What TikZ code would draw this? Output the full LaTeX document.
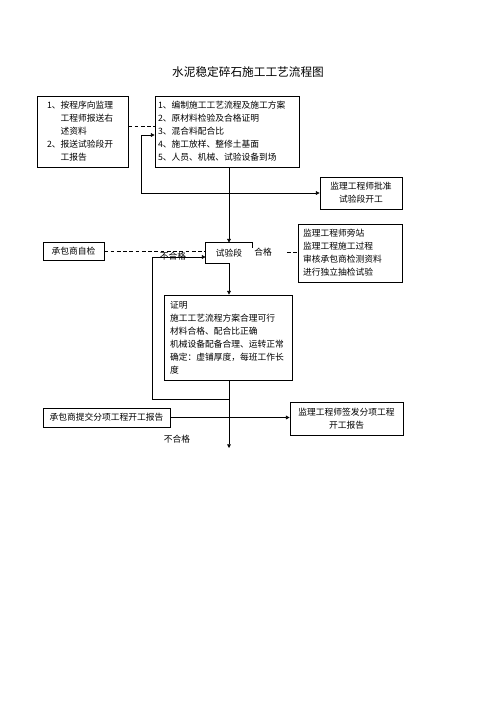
\documentclass[tikz,border=0pt]{standalone}
\usepackage{fontspec}
\setmainfont{Noto Sans CJK SC}
\usepackage{tikz}
\usetikzlibrary{arrows.meta, calc, positioning}

\begin{document}
\begin{tikzpicture}[x=1.2pt, y=-1.2pt, line width=0.9pt,
  box/.style={draw, rectangle, inner ysep=0pt, font=\fontsize{10.5pt}{15.6pt}\selectfont},
  flow/.style={-{Triangle[length=4.5pt,width=4.5pt]}},
  twoway/.style={{Triangle[length=4.5pt,width=4.5pt]}-{Triangle[length=4.5pt,width=4.5pt]}},
  dash line/.style={dash pattern=on 4.5pt off 3pt},
  tag/.style={font=\fontsize{10.5pt}{12pt}\selectfont, inner sep=0pt}]
\useasboundingbox (0,0) rectangle (496,702);
% title
\node[font=\fontsize{14pt}{16pt}\selectfont] (title) at (248,72) {水泥稳定碎石施工工艺流程图};
% top row
\node[box, minimum width=109.2pt, minimum height=85.2pt, inner xsep=12pt, text width=85pt, align=left] (send) at (82.5,131.5)
  {1、按程序向监理\\\hphantom{1、}工程师报送右\\\hphantom{1、}述资料\\2、报送试验段开\\\hphantom{1、}工报告};
\node[box, minimum width=172.8pt, minimum height=85.2pt, inner xsep=3.6pt, text width=165.6pt, align=left] (prep) at (227,131.5)
  {1、编制施工工艺流程及施工方案\\2、原材料检验及合格证明\\3、混合料配合比\\4、施工放样、整修土基面\\5、人员、机械、试验设备到场};
\node[box, minimum width=98.4pt, minimum height=38.4pt, align=center] (approve) at (361,193) {监理工程师批准\\试验段开工};
% trial section row
\node[font=\fontsize{10.5pt}{12pt}\selectfont, minimum width=55.2pt, minimum height=24pt] (trial) at (229,253) {试验段};
\node[box, minimum width=73.2pt, minimum height=21.6pt] (selfchk) at (73.5,251) {承包商自检};
\node[box, minimum width=124.8pt, minimum height=69.6pt, inner xsep=6pt, text width=112.8pt, align=left] (watch) at (350,253)
  {监理工程师旁站\\监理工程施工过程\\审核承包商检测资料\\进行独立抽检试验};
\node[tag, anchor=west, inner xsep=3.6pt, text width=34.8pt, align=left] (pass) at (251,252) {合格};
\node[tag] (fail1) at (173,256) {不合格};
% proof box
\node[box, minimum width=153.6pt, minimum height=102pt, inner xsep=7.2pt, text width=139.2pt, align=left] (proof) at (228,337.5)
  {证明\\施工工艺流程方案合理可行\\材料合格、配合比正确\\机械设备配备合理、运转正常\\确定：虚铺厚度，每班工作长\\度};
% bottom row
\node[box, minimum width=152.4pt, minimum height=22.8pt] (submit) at (106.5,417.5) {承包商提交分项工程开工报告};
\node[box, minimum width=135.6pt, minimum height=39.6pt, align=center] (sign) at (346.5,418.5) {监理工程师签发分项工程\\开工报告};
\node[tag] (fail2) at (177,439) {不合格};
\coordinate (turn) at (141,135);
\coordinate (back) at (152,399);
\coordinate (finish) at (229,448);
% trial box outline (partly hidden by the label)
\draw (trial.south) -- (trial.south west) -- (trial.north west) -- (trial.north east) -- ++(0,5);
% connectors
\draw[dash line] ([yshift=6.6pt]send.east) -- ([yshift=6.6pt]prep.west);
\draw[twoway] (prep.west |- turn) -- (turn) |- (approve.west);
\draw[flow] (trial.north |- prep.south) -- (trial.north);
\draw[dash line] (selfchk.east) -- (selfchk.east -| trial.west);
\draw[dash line] (pass.east) -- (pass.east -| watch.west);
\draw[flow] (trial.south) -- (trial.south |- proof.north);
\draw[flow] (trial.south |- back) -- (back) |- ([yshift=-4.8pt]trial.west);
\draw[flow] (trial.south |- proof.south) -- (finish);
\draw[flow] (submit.east) -- (submit.east -| sign.west);
\end{tikzpicture}
\end{document}
